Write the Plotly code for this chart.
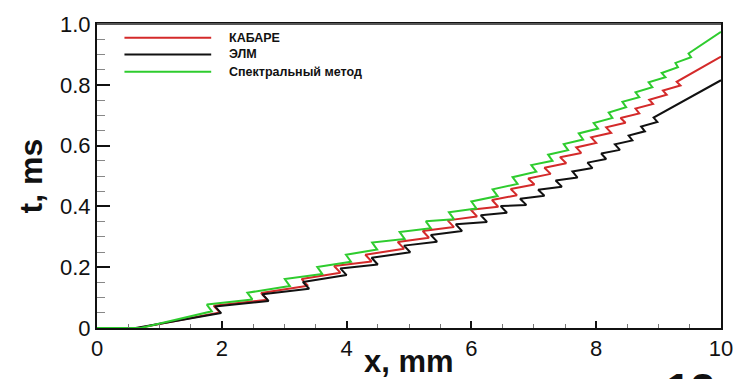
import plotly.graph_objects as go

# ---- data ----
series_names = ["КАБАРЕ", "ЭЛМ", "Спектральный метод"]
series_colors = ["#d42a2a", "#111111", "#2ecc2e"]

kabare_x = [0.66, 1.97, 1.87, 2.73, 2.63, 3.38, 3.28, 3.90, 3.80, 4.40, 4.30, 4.92, 4.82,
            5.32, 5.22, 5.72, 5.62, 6.09, 5.99, 6.43, 6.33, 6.73, 6.63, 7.01, 6.91, 7.27, 7.17,
            7.52, 7.42, 7.76, 7.68, 8.00, 7.92, 8.24, 8.16, 8.47, 8.39, 8.69, 8.63, 8.91, 8.85,
            9.13, 9.07, 9.35, 9.29, 10.0]
kabare_t = [0.0, 0.051, 0.073, 0.093, 0.115, 0.139, 0.161, 0.182, 0.204, 0.219, 0.241, 0.261, 0.283,
            0.297, 0.319, 0.332, 0.354, 0.367, 0.389, 0.399, 0.421, 0.437, 0.457, 0.472, 0.492, 0.507, 0.527,
            0.542, 0.562, 0.576, 0.594, 0.609, 0.627, 0.642, 0.660, 0.675, 0.691, 0.706, 0.722, 0.737, 0.751,
            0.767, 0.781, 0.798, 0.810, 0.893]

elm_x = [0.62, 1.99, 1.89, 2.75, 2.65, 3.40, 3.30, 4.00, 3.90, 4.50, 4.40, 5.02, 4.92,
         5.45, 5.35, 5.85, 5.75, 6.25, 6.15, 6.57, 6.47, 6.88, 6.78, 7.17, 7.07, 7.45, 7.35,
         7.70, 7.62, 7.94, 7.86, 8.16, 8.08, 8.38, 8.30, 8.58, 8.52, 8.78, 8.72, 8.98, 8.92, 10.0]
elm_t = [0.0, 0.049, 0.071, 0.089, 0.111, 0.129, 0.151, 0.174, 0.196, 0.209, 0.231, 0.249, 0.271,
         0.284, 0.306, 0.319, 0.341, 0.349, 0.371, 0.379, 0.401, 0.405, 0.425, 0.435, 0.455, 0.465, 0.485,
         0.495, 0.515, 0.526, 0.544, 0.556, 0.574, 0.586, 0.604, 0.617, 0.633, 0.647, 0.663, 0.678, 0.692, 0.815]

spec_x = [0.0, 0.70, 1.84, 1.76, 2.49, 2.41, 3.09, 3.01, 3.61, 3.53, 4.07, 3.99, 4.49, 4.41,
          4.93, 4.85, 5.35, 5.27, 5.72, 5.64, 6.08, 6.00, 6.42, 6.34, 6.74, 6.66, 7.04, 6.96,
          7.30, 7.23, 7.55, 7.48, 7.79, 7.72, 8.03, 7.96, 8.26, 8.20, 8.48, 8.42, 8.69, 8.63,
          8.90, 8.84, 9.11, 9.05, 9.31, 9.27, 9.52, 9.48, 10.0]
spec_t = [0.0, 0.0, 0.055, 0.077, 0.094, 0.116, 0.138, 0.161, 0.178, 0.201, 0.218, 0.241, 0.258, 0.281,
          0.293, 0.316, 0.328, 0.351, 0.358, 0.381, 0.393, 0.416, 0.434, 0.456, 0.474, 0.496, 0.514, 0.536,
          0.550, 0.570, 0.585, 0.605, 0.620, 0.640, 0.656, 0.674, 0.691, 0.709, 0.726, 0.744, 0.759, 0.775,
          0.792, 0.808, 0.825, 0.839, 0.858, 0.872, 0.891, 0.903, 0.974]

x_ticks = [0, 2, 4, 6, 8, 10]
x_tick_labels = ["0", "2", "4", "6", "8", "10"]
y_ticks = [0, 0.2, 0.4, 0.6, 0.8, 1.0]
y_tick_labels = ["0", "0.2", "0.4", "0.6", "0.8", "1.0"]

FONT = "Liberation Sans, Arial, sans-serif"

fig = go.Figure()
all_x = [kabare_x, elm_x, spec_x]
all_t = [kabare_t, elm_t, spec_t]
for xs, ts, name, col in zip(all_x, all_t, series_names, series_colors):
    fig.add_trace(go.Scatter(x=xs, y=ts, mode="lines", name=name,
                             line=dict(color=col, width=2),
                             showlegend=False))

# manual legend (long line samples as in the reference)
leg_y = [0.955, 0.900, 0.843]
for name, col, yy in zip(series_names, series_colors, leg_y):
    fig.add_shape(type="line", xref="paper", yref="paper", x0=0.044, x1=0.183, y0=yy, y1=yy,
                  line=dict(color=col, width=2))
    fig.add_annotation(text="<b>" + name + "</b>", xref="paper", yref="paper", x=0.208, y=yy,
                       xanchor="left", yanchor="middle", showarrow=False,
                       font=dict(family=FONT, size=12.5, color="#111"))

axis_common = dict(showline=True, linecolor="#111", linewidth=2, mirror=True,
                   ticks="inside", tickwidth=2, tickcolor="#111",
                   showgrid=False, zeroline=False,
                   tickfont=dict(family=FONT, size=22, color="#111"))

fig.update_xaxes(range=[0, 10], tickvals=x_ticks, ticktext=x_tick_labels, ticklen=7,
                 minor=dict(ticks="inside", ticklen=4, tickwidth=1, tickcolor="#777", dtick=0.5),
                 **axis_common)
fig.update_yaxes(range=[0, 1.0], tickvals=y_ticks, ticktext=y_tick_labels, ticklen=13,
                 minor=dict(ticks="inside", ticklen=8, tickwidth=1, tickcolor="#888", dtick=0.05),
                 **axis_common)

# grey top frame line as in the reference
fig.add_shape(type="line", xref="paper", yref="paper", x0=0, x1=1, y0=1, y1=1,
              line=dict(color="#555", width=2))

# axis titles
fig.add_annotation(text="<b>x, mm</b>", xref="paper", yref="paper", x=0.5, y=-0.047,
                   xanchor="center", yanchor="top", showarrow=False,
                   font=dict(family=FONT, size=31, color="#111"))
fig.add_annotation(text="<b>t, ms</b>", xref="paper", yref="paper", x=-0.105, y=0.5,
                   xanchor="center", yanchor="middle", textangle=-90, showarrow=False,
                   font=dict(family=FONT, size=32, color="#111"))
# slide number, cut off at the bottom edge
fig.add_annotation(text="<b>12</b>", xref="paper", yref="paper", x=0.951, y=-0.115,
                   xanchor="center", yanchor="top", showarrow=False,
                   font=dict(family=FONT, size=44, color="#111"))

fig.update_layout(width=745, height=379, margin=dict(l=97, r=14, t=19, b=51),
                  paper_bgcolor="white", plot_bgcolor="white")

fig.write_html("out.html")
